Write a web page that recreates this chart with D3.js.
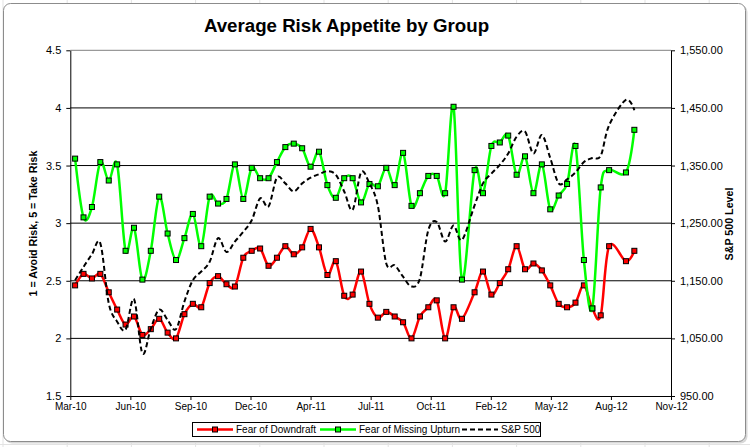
<!DOCTYPE html>
<html>
<head>
<meta charset="utf-8">
<script src="https://cdn.jsdelivr.net/npm/d3@7"></script>
<style>
body { margin: 0; background: #fff; }
svg { display: block; }
text { font-family: "Liberation Sans", Arial, sans-serif; fill: #000; }
</style>
</head>
<body>
<div id="chart"></div>
<script>
// survey dates (every two weeks, a few skipped)
var dates = ["2010-03-11","2010-03-25","2010-04-08","2010-04-22","2010-05-06","2010-05-20","2010-06-03","2010-06-17",
"2010-07-01","2010-07-15","2010-07-29","2010-08-12","2010-08-26","2010-09-09","2010-09-23","2010-10-07","2010-10-21",
"2010-11-04","2010-11-18","2010-12-02","2010-12-16","2010-12-30","2011-01-13","2011-01-27","2011-02-10","2011-02-24",
"2011-03-10","2011-03-24","2011-04-07","2011-04-21","2011-05-05","2011-05-19","2011-06-02","2011-06-16","2011-06-30",
"2011-07-14","2011-07-28","2011-08-11","2011-08-25","2011-09-08","2011-09-22","2011-10-06","2011-10-20","2011-11-03",
"2011-11-17","2011-12-01","2011-12-15","2012-01-05","2012-01-19","2012-02-02","2012-02-16","2012-03-01","2012-03-15",
"2012-03-29","2012-04-12","2012-04-26","2012-05-10","2012-05-24","2012-06-07","2012-06-21","2012-07-05","2012-07-19",
"2012-08-02","2012-08-16","2012-09-13","2012-09-27"];

var downdraft = [2.46,2.56,2.52,2.56,2.40,2.25,2.12,2.19,2.03,2.08,2.17,2.05,2.00,2.21,2.30,2.27,2.48,2.54,2.47,2.45,
2.70,2.76,2.78,2.63,2.70,2.80,2.73,2.79,2.95,2.79,2.55,2.67,2.37,2.38,2.58,2.30,2.18,2.23,2.19,2.14,2.00,2.19,2.27,
2.33,2.00,2.27,2.17,2.40,2.58,2.38,2.48,2.60,2.80,2.60,2.65,2.59,2.46,2.30,2.27,2.31,2.46,2.26,2.20,2.80,2.67,2.76];

var upturn = [3.56,3.05,3.14,3.53,3.37,3.51,2.76,2.96,2.51,2.76,3.23,2.91,2.68,2.87,3.08,2.80,3.23,3.17,3.21,3.51,
3.21,3.48,3.39,3.39,3.53,3.66,3.69,3.65,3.49,3.62,3.33,3.22,3.39,3.39,3.18,3.34,3.32,3.48,3.33,3.61,3.15,3.26,3.41,
3.41,3.26,4.01,2.51,3.46,3.26,3.67,3.70,3.76,3.42,3.58,3.26,3.51,3.12,3.24,3.34,3.67,2.68,2.26,3.31,3.46,3.44,3.81];

var sp500 = [1151,1174,1196,1215,1111,1079,1065,1118,1024,1067,1100,1082,1066,1114,1151,1166,1183,1224,1200,1218,
1235,1255,1293,1279,1329,1319,1305,1319,1329,1335,1340,1334,1305,1273,1338,1319,1280,1180,1177,1157,1140,1154,1238,
1252,1218,1246,1221,1281,1319,1336,1351,1371,1400,1409,1371,1403,1363,1319,1326,1338,1356,1363,1367,1420,1464,1446];

var leftTicks = [1.5, 2, 2.5, 3, 3.5, 4, 4.5];
var rightTicks = [950, 1050, 1150, 1250, 1350, 1450, 1550];
var gridTicks = [2, 2.5, 3, 3.5, 4];
var xTicks = ["2010-03-03","2010-06-11","2010-09-19","2010-12-28","2011-04-07","2011-07-16","2011-10-24",
"2012-02-01","2012-05-11","2012-08-19","2012-11-27"];

var W = 750, H = 447;
var plot = { left: 70.3, right: 671, top: 50.3, bottom: 396 };
var parse = d3.utcParse("%Y-%m-%d");

var svg = d3.select("#chart").append("svg")
    .attr("width", W)
    .attr("height", H);

// spreadsheet cells behind the chart
for (var gx = 3; gx < W; gx += 64.2) {
    svg.append("line").attr("x1", gx).attr("x2", gx).attr("y1", 0).attr("y2", H)
        .attr("stroke", "#e3e3e3");
}
svg.append("line").attr("x1", 0).attr("x2", W).attr("y1", 444.5).attr("y2", 444.5).attr("stroke", "#e3e3e3");

// chart frame with shadow
svg.append("rect").attr("x", 5).attr("y", 5).attr("width", 742.5).attr("height", 438.5)
    .attr("rx", 7).attr("fill", "#d8d8d8");
svg.append("rect").attr("x", 3.5).attr("y", 3.5).attr("width", 742).attr("height", 438)
    .attr("rx", 7).attr("fill", "#fff").attr("stroke", "#8c8c8c");

svg.append("text")
    .attr("x", 346.5).attr("y", 31.5)
    .attr("text-anchor", "middle")
    .style("font-size", "18.7px").style("font-weight", "bold")
    .text("Average Risk Appetite by Group");

var x = d3.scaleUtc()
    .domain([parse(xTicks[0]), parse(xTicks[xTicks.length - 1])])
    .range([plot.left, plot.right]);
var yL = d3.scaleLinear().domain([1.5, 4.5]).range([plot.bottom, plot.top]);
var yR = d3.scaleLinear().domain([950, 1550]).range([plot.bottom, plot.top]);

// gridlines
svg.append("g").selectAll("line").data(gridTicks).enter()
    .append("line")
    .attr("x1", plot.left).attr("x2", plot.right)
    .attr("y1", function (d) { return yL(d); })
    .attr("y2", function (d) { return yL(d); })
    .attr("stroke", "#000").attr("stroke-width", 1);
svg.append("line")
    .attr("x1", plot.left).attr("x2", plot.right)
    .attr("y1", yL(4.5)).attr("y2", yL(4.5))
    .attr("stroke", "#808080");

// axes
var gl = svg.append("g")
    .attr("transform", "translate(" + plot.left + ",0)")
    .call(d3.axisLeft(yL).tickValues(leftTicks).tickSize(4).tickSizeOuter(0).tickPadding(5)
        .tickFormat(function (d) { return String(d); }));
var gr = svg.append("g")
    .attr("transform", "translate(" + plot.right + ",0)")
    .call(d3.axisRight(yR).tickValues(rightTicks).tickSize(4).tickSizeOuter(0).tickPadding(5)
        .tickFormat(d3.format(",.2f")));
var gb = svg.append("g")
    .attr("transform", "translate(0," + plot.bottom + ")")
    .call(d3.axisBottom(x).tickValues(xTicks.map(parse)).tickSize(4).tickSizeOuter(0).tickPadding(3)
        .tickFormat(d3.utcFormat("%b-%y")));

[gl, gr, gb].forEach(function (g) {
    g.selectAll("path, line").attr("stroke", "#000").attr("stroke-width", 1);
    g.selectAll("text").attr("fill", "#000").attr("font-family", null);
});
gl.selectAll("text").style("font-size", "11px");
gr.selectAll("text").style("font-size", "11px");
gb.selectAll("text").style("font-size", "10px");

svg.append("text")
    .attr("transform", "translate(37,223.5)rotate(-90)")
    .attr("text-anchor", "middle")
    .style("font-size", "10.7px").style("font-weight", "bold")
    .text("1 = Avoid Risk, 5 = Take Risk");
svg.append("text")
    .attr("transform", "translate(733,224)rotate(-90)")
    .attr("text-anchor", "middle")
    .style("font-size", "10.7px").style("font-weight", "bold")
    .text("S&P 500 Level");

// series
var rows = dates.map(function (d, i) {
    return { date: parse(d), down: downdraft[i], up: upturn[i], sp: sp500[i] };
});

function drawSeries(key, scale, color, width, dash, marker) {
    var line = d3.line()
        .x(function (d) { return x(d.date); })
        .y(function (d) { return scale(d[key]); })
        .curve(d3.curveCardinal.tension(0));
    svg.append("path")
        .datum(rows)
        .attr("fill", "none")
        .attr("stroke", color)
        .attr("stroke-width", width)
        .attr("stroke-dasharray", dash)
        .attr("d", line);
    if (marker) {
        svg.append("g").selectAll("rect").data(rows).enter()
            .append("rect")
            .attr("x", function (d) { return x(d.date) - 2.5; })
            .attr("y", function (d) { return scale(d[key]) - 2.5; })
            .attr("width", 5).attr("height", 5)
            .attr("fill", color)
            .attr("stroke", "#000").attr("stroke-width", 1);
    }
}

drawSeries("down", yL, "#ff0000", 2.5, null, true);
drawSeries("up", yL, "#00ff00", 2.5, null, true);
drawSeries("sp", yR, "#000", 2, "5,3", false);

// legend
var lg = svg.append("g");
lg.append("rect")
    .attr("x", 192.5).attr("y", 422.5).attr("width", 348).attr("height", 14)
    .attr("fill", "#fff").attr("stroke", "#000");
var legend = [
    { name: "Fear of Downdraft", color: "#ff0000", x: 197, dash: null, marker: true },
    { name: "Fear of Missing Upturn", color: "#00ff00", x: 320, dash: null, marker: true },
    { name: "S&P 500", color: "#000", x: 462, dash: "5,3", marker: false }
];
legend.forEach(function (l) {
    lg.append("line")
        .attr("x1", l.x).attr("x2", l.x + 36).attr("y1", 429.5).attr("y2", 429.5)
        .attr("stroke", l.color).attr("stroke-width", l.marker ? 2.5 : 2)
        .attr("stroke-dasharray", l.dash);
    if (l.marker) {
        lg.append("rect")
            .attr("x", l.x + 15.5).attr("y", 427).attr("width", 5).attr("height", 5)
            .attr("fill", l.color).attr("stroke", "#000");
    }
    lg.append("text")
        .attr("x", l.x + 39).attr("y", 433)
        .style("font-size", "10px")
        .text(l.name);
});
</script>
</body>
</html>
